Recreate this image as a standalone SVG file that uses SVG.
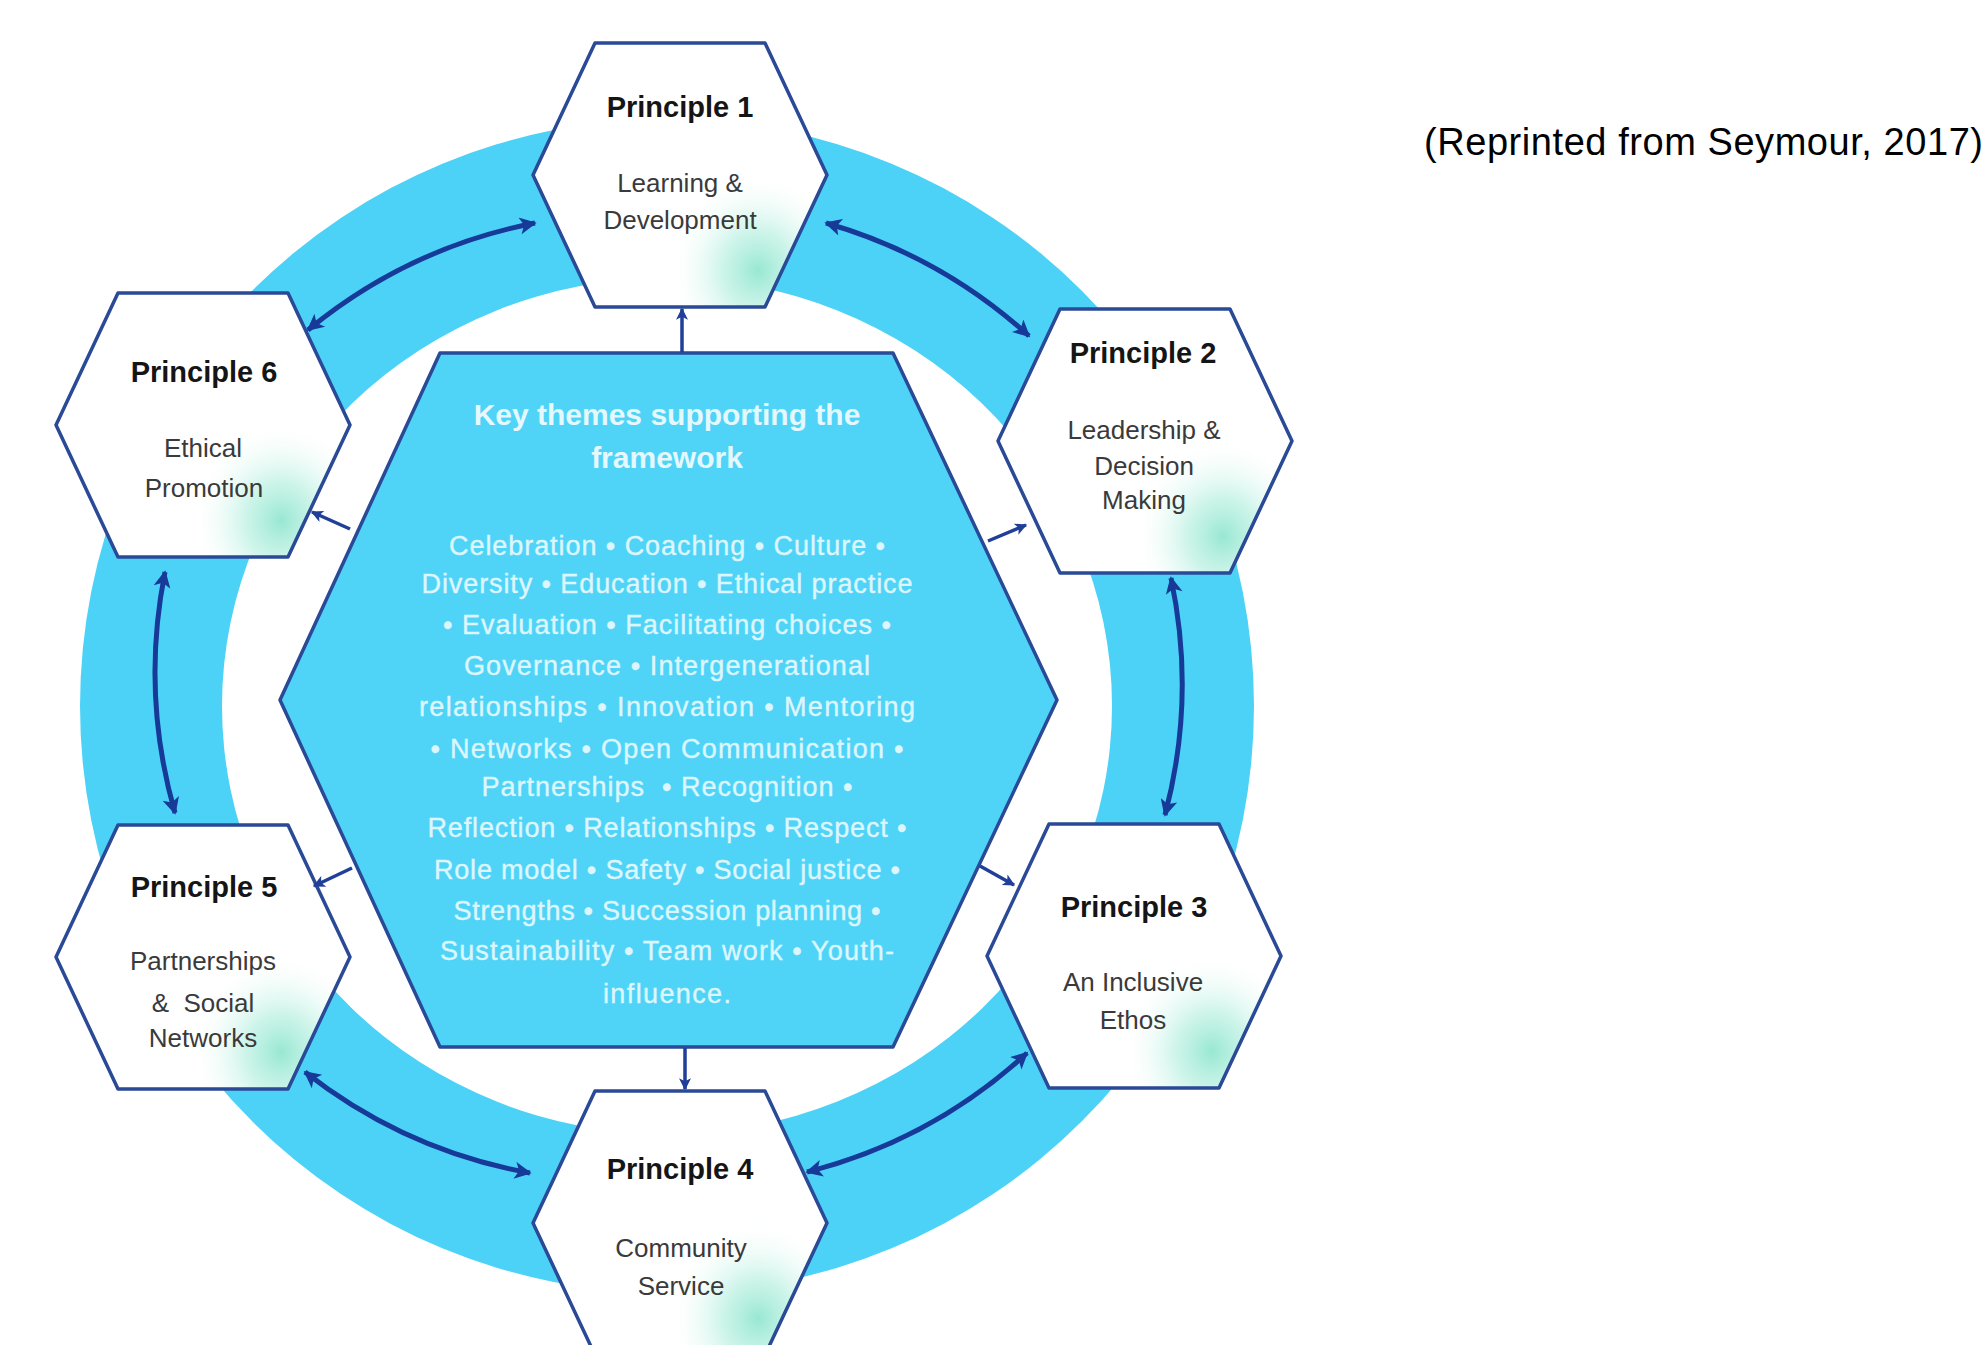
<svg xmlns="http://www.w3.org/2000/svg" width="1983" height="1345" viewBox="0 0 1983 1345">
  <style>
    .hex { fill: #FFFFFF; }
    .hexline { fill: none; stroke: #2A4996; stroke-width: 3.5; stroke-linejoin: round; }
    .ttl { font-family: "Liberation Sans", Arial, sans-serif; font-weight: bold; font-size: 29px; fill: #151515; text-anchor: middle; }
    .sub { font-family: "Liberation Sans", Arial, sans-serif; font-size: 26px; fill: #3A3A3A; text-anchor: middle; white-space: pre; }
    .ktitle { font-family: "Liberation Sans", Arial, sans-serif; font-weight: bold; font-size: 30px; fill: #E4F8FE; text-anchor: middle; }
    .kbody { font-family: "Liberation Sans", Arial, sans-serif; font-size: 27px; fill: #DDF6FD; text-anchor: middle; white-space: pre; stroke: #DDF6FD; stroke-width: 0.4; }
    .ring-arrow { fill: none; stroke: #173A98; stroke-width: 5; marker-start: url(#ah); marker-end: url(#ah); }
    .short-arrow { fill: none; stroke: #1F3F98; stroke-width: 3.5; marker-end: url(#ahs); }
    .cite { font-family: "Liberation Sans", Arial, sans-serif; font-size: 38px; fill: #000000; }
  </style>
  <defs>
    <marker id="ah" viewBox="0 0 10 10" refX="9" refY="5" markerWidth="21" markerHeight="17" markerUnits="userSpaceOnUse" orient="auto-start-reverse">
      <path d="M0,0 L10,5 L0,10 L2.5,5 Z" fill="#173A98"/>
    </marker>
    <marker id="ahs" viewBox="0 0 10 10" refX="9" refY="5" markerWidth="14" markerHeight="12" markerUnits="userSpaceOnUse" orient="auto">
      <path d="M0,0 L10,5 L0,10 L2.5,5 Z" fill="#1F3F98"/>
    </marker>
    <path id="hexshape" d="M-147,0 L-85,-132 L85,-132 L147,0 L85,132 L-85,132 Z"/>
    <clipPath id="hexclip">
      <path d="M-147,0 L-85,-132 L85,-132 L147,0 L85,132 L-85,132 Z"/>
    </clipPath>
    <radialGradient id="mint" cx="0.52" cy="0.76" r="0.6">
      <stop offset="0" stop-color="#8CE5CD" stop-opacity="0.9"/>
      <stop offset="0.4" stop-color="#B9F0E1" stop-opacity="0.7"/>
      <stop offset="0.75" stop-color="#E6FAF4" stop-opacity="0.35"/>
      <stop offset="1" stop-color="#FFFFFF" stop-opacity="0"/>
    </radialGradient>
  </defs>

  <rect x="0" y="0" width="1983" height="1345" fill="#FFFFFF"/>

  <g id="ring">
    <path fill="#4DD2F7" fill-rule="evenodd" d="M80,706 A587,587 0 1 0 1254,706 A587,587 0 1 0 80,706 Z M222,706 A445,428 0 1 0 1112,706 A445,428 0 1 0 222,706 Z"/>
  </g>

  <g id="themes">
    <path d="M440,353 L893,353 L1057,700 L893,1047 L440,1047 L280,700 Z" fill="#4FD4F8" stroke="#2A4996" stroke-width="3.5" stroke-linejoin="round"/>
    <text class="ktitle" x="667" y="425">Key themes supporting the</text>
    <text class="ktitle" x="667" y="468">framework</text>
    <text class="kbody" x="667" y="555" textLength="436">Celebration • Coaching • Culture •</text>
    <text class="kbody" x="667" y="593" textLength="491">Diversity • Education • Ethical practice</text>
    <text class="kbody" x="667" y="634" textLength="448">• Evaluation • Facilitating choices •</text>
    <text class="kbody" x="667" y="675" textLength="406">Governance • Intergenerational</text>
    <text class="kbody" x="667" y="716" textLength="496">relationships • Innovation • Mentoring</text>
    <text class="kbody" x="667" y="758" textLength="473">• Networks • Open Communication •</text>
    <text class="kbody" x="667" y="796" textLength="371">Partnerships  • Recognition •</text>
    <text class="kbody" x="667" y="837" textLength="479">Reflection • Relationships • Respect •</text>
    <text class="kbody" x="667" y="879" textLength="466">Role model • Safety • Social justice •</text>
    <text class="kbody" x="667" y="920" textLength="427">Strengths • Succession planning •</text>
    <text class="kbody" x="667" y="960" textLength="454">Sustainability • Team work • Youth-</text>
    <text class="kbody" x="667" y="1003" textLength="128">influence.</text>
  </g>

  <g id="principle1" transform="translate(680,175)">
    <use href="#hexshape" class="hex"/>
    <rect x="0" y="-30" width="150" height="165" fill="url(#mint)" clip-path="url(#hexclip)"/>
    <use href="#hexshape" class="hexline"/>
    <text class="ttl" x="0" y="-58">Principle 1</text>
    <text class="sub" x="0" y="17">Learning &amp;</text>
    <text class="sub" x="0" y="54">Development</text>
  </g>

  <g id="principle2" transform="translate(1145,441)">
    <use href="#hexshape" class="hex"/>
    <rect x="0" y="-30" width="150" height="165" fill="url(#mint)" clip-path="url(#hexclip)"/>
    <use href="#hexshape" class="hexline"/>
    <text class="ttl" x="-2" y="-78">Principle 2</text>
    <text class="sub" x="-1" y="-2">Leadership &amp;</text>
    <text class="sub" x="-1" y="34">Decision</text>
    <text class="sub" x="-1" y="68">Making</text>
  </g>

  <g id="principle3" transform="translate(1134,956)">
    <use href="#hexshape" class="hex"/>
    <rect x="0" y="-30" width="150" height="165" fill="url(#mint)" clip-path="url(#hexclip)"/>
    <use href="#hexshape" class="hexline"/>
    <text class="ttl" x="0" y="-39">Principle 3</text>
    <text class="sub" x="-1" y="35">An Inclusive</text>
    <text class="sub" x="-1" y="73">Ethos</text>
  </g>

  <g id="principle4" transform="translate(680,1223)">
    <use href="#hexshape" class="hex"/>
    <rect x="0" y="-30" width="150" height="165" fill="url(#mint)" clip-path="url(#hexclip)"/>
    <use href="#hexshape" class="hexline"/>
    <text class="ttl" x="0" y="-44">Principle 4</text>
    <text class="sub" x="1" y="34">Community</text>
    <text class="sub" x="1" y="72">Service</text>
  </g>

  <g id="principle5" transform="translate(203,957)">
    <use href="#hexshape" class="hex"/>
    <rect x="0" y="-30" width="150" height="165" fill="url(#mint)" clip-path="url(#hexclip)"/>
    <use href="#hexshape" class="hexline"/>
    <text class="ttl" x="1" y="-60">Principle 5</text>
    <text class="sub" x="0" y="13">Partnerships</text>
    <text class="sub" x="0" y="55">&amp;  Social</text>
    <text class="sub" x="0" y="90">Networks</text>
  </g>

  <g id="principle6" transform="translate(203,425)">
    <use href="#hexshape" class="hex"/>
    <rect x="0" y="-30" width="150" height="165" fill="url(#mint)" clip-path="url(#hexclip)"/>
    <use href="#hexshape" class="hexline"/>
    <text class="ttl" x="1" y="-43">Principle 6</text>
    <text class="sub" x="0" y="32">Ethical</text>
    <text class="sub" x="1" y="72">Promotion</text>
  </g>

  <g id="connectors">
    <path class="ring-arrow" d="M308,330 A512,512 0 0 1 535,223"/>
    <path class="ring-arrow" d="M826,223 A512,512 0 0 1 1029,336"/>
    <path class="ring-arrow" d="M1171,578 A512,512 0 0 1 1165,815"/>
    <path class="ring-arrow" d="M1027,1053 A512,512 0 0 1 807,1172"/>
    <path class="ring-arrow" d="M305,1072 A512,512 0 0 0 530,1173"/>
    <path class="ring-arrow" d="M165,572 A512,512 0 0 0 175,813"/>
    <line class="short-arrow" x1="682" y1="352" x2="682" y2="309"/>
    <line class="short-arrow" x1="685" y1="1048" x2="685" y2="1089"/>
    <line class="short-arrow" x1="988" y1="541" x2="1026" y2="525"/>
    <line class="short-arrow" x1="980" y1="866" x2="1014" y2="885"/>
    <line class="short-arrow" x1="350" y1="529" x2="312" y2="512"/>
    <line class="short-arrow" x1="352" y1="868" x2="314" y2="886"/>
  </g>

  <text class="cite" x="1424" y="155" textLength="559">(Reprinted from Seymour, 2017)</text>
</svg>
